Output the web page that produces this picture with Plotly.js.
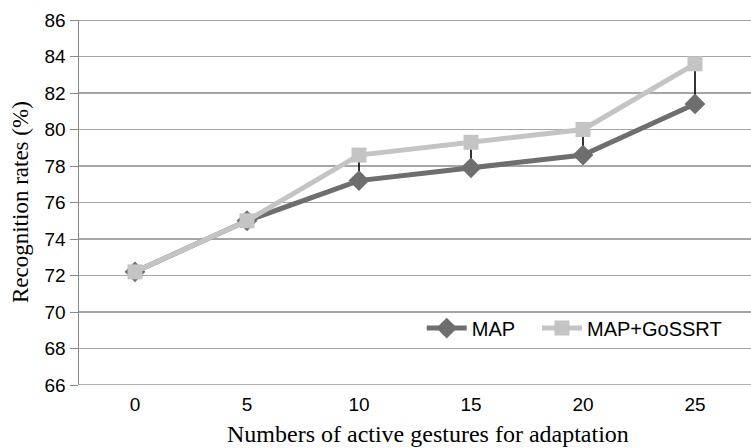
<!DOCTYPE html>
<html><head><meta charset="utf-8">
<script src="https://cdn.plot.ly/plotly-3.0.1.min.js"></script>
<style>html,body{margin:0;padding:0;background:#fff}#c{width:751px;height:448px}</style>
</head><body><div id="c"></div>
<script>
const categories = ["0","5","10","15","20","25"];
const mapValues = [72.2, 75.0, 77.2, 77.9, 78.6, 81.4];
const gossrtValues = [72.2, 75.0, 78.6, 79.3, 80.0, 83.6];
const yTicks = [66,68,70,72,74,76,78,80,82,84,86];
const xTitle = "Numbers of active gestures for adaptation";
const yTitle = "Recognition rates (%)";

const diff = gossrtValues.map((v,i)=>v-mapValues[i]);
const sans = "'Liberation Sans', Arial, sans-serif";
const serif = "'Liberation Serif', 'Times New Roman', serif";

const traces = [
  {x: categories, y: mapValues, name: "MAP", type: "scatter", mode: "lines+markers", legend: "legend",
   line: {color: "#6e6e6e", width: 5}, marker: {symbol: "diamond", size: 16, color: "#6e6e6e"},
   error_y: {type: "data", symmetric: false, array: diff, arrayminus: diff.map(()=>0), color: "#000", thickness: 1.6, width: 0}},
  {x: categories, y: gossrtValues, name: "MAP+GoSSRT", type: "scatter", mode: "lines+markers", legend: "legend2",
   line: {color: "#c4c4c4", width: 5}, marker: {symbol: "square", size: 15, color: "#c4c4c4"}}
];

const legendBase = {orientation: "h", y: 0.156, xanchor: "left", yanchor: "middle",
  font: {family: sans, size: 20, color: "#000"}, bgcolor: "rgba(0,0,0,0)", itemwidth: 40};

const layout = {
  width: 751, height: 448,
  margin: {l: 79, r: 0, t: 20, b: 63, autoexpand: false},
  paper_bgcolor: "#fff", plot_bgcolor: "#fff",
  showlegend: true,
  legend: Object.assign({}, legendBase, {x: 0.51}),
  legend2: Object.assign({}, legendBase, {x: 0.6815}),
  xaxis: {type: "category", range: [-0.5, 5.5], showgrid: false, zeroline: false,
    showline: false, ticks: "", ticklabelstandoff: 6,
    tickfont: {family: sans, size: 19, color: "#000"}},
  yaxis: {range: [66, 86], tickvals: yTicks, ticktext: yTicks.map(String),
    showgrid: true, gridcolor: "#a6a6a6", gridwidth: 1.5, zeroline: false,
    showline: true, linecolor: "#888", linewidth: 1.5,
    ticks: "outside", ticklen: 8, tickcolor: "#888", tickwidth: 1,
    tickfont: {family: sans, size: 19, color: "#000"}},
  annotations: [
    {text: xTitle, xref: "paper", yref: "paper", x: 0.52, y: -0.135, xanchor: "center", yanchor: "middle",
     showarrow: false, font: {family: serif, size: 24, color: "#000"}},
    {text: yTitle, xref: "paper", yref: "paper", x: -0.087, y: 0.5, xanchor: "center", yanchor: "middle",
     textangle: -90, showarrow: false, font: {family: serif, size: 23, color: "#000"}}
  ],
  shapes: [
    {type: "line", xref: "paper", yref: "y", x0: 0, x1: 1, y0: 86, y1: 86, line: {color: "#444", width: 1.2}},
    {type: "line", xref: "paper", yref: "y", x0: 0, x1: 1, y0: 66, y1: 66, line: {color: "#999", width: 1.5}}
  ]
};
Plotly.newPlot("c", traces, layout, {displayModeBar: false, staticPlot: true});
</script></body></html>
